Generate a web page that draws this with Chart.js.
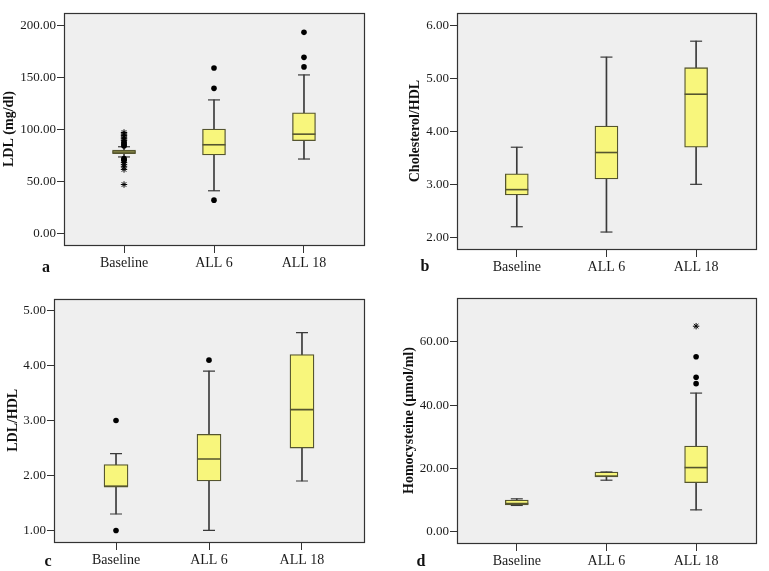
<!DOCTYPE html>
<html>
<head>
<meta charset="utf-8">
<script src="https://cdn.jsdelivr.net/npm/chart.js@4/dist/chart.umd.min.js"></script>
<style>
  html, body { margin: 0; padding: 0; background: #ffffff; }
  #wrap { position: relative; width: 769px; height: 571px; overflow: hidden; }
  canvas { position: absolute; }
  .lbl { position: absolute; font: bold 16px "Liberation Serif", serif; color: #111; transform: translate(-50%, -50%); }
</style>
</head>
<body>
<div id="wrap">
  <canvas id="ca" width="384" height="285" style="left:0;top:0;width:384px;height:285px"></canvas>
  <canvas id="cb" width="385" height="285" style="left:384px;top:0;width:385px;height:285px"></canvas>
  <canvas id="cc" width="384" height="286" style="left:0;top:285px;width:384px;height:286px"></canvas>
  <canvas id="cd" width="385" height="286" style="left:384px;top:285px;width:385px;height:286px"></canvas>
  <div class="lbl" style="left:46px;top:267px">a</div>
  <div class="lbl" style="left:425px;top:266px">b</div>
  <div class="lbl" style="left:48px;top:561px">c</div>
  <div class="lbl" style="left:421px;top:561px">d</div>
</div>
<script>
// ---- Data ----
const categories = ['Baseline', 'ALL 6', 'ALL 18'];
const categoryPositions = [1, 2, 3];

// Panel a: LDL (mg/dl)
const ldlTicks = [0, 50, 100, 150, 200];
const ldlMin    = [73.5, 41.0, 71.5];
const ldlQ1     = [76.6, 75.4, 89.2];
const ldlMedian = [78.2, 85.2, 95.4];
const ldlQ3     = [80.2, 100.3, 116.0];
const ldlMax    = [83.3, 128.3, 152.3];
const ldlOutliers = [[1, 84], [1, 85], [1, 86.5], [1, 88], [1, 72], [1, 71], [1, 70],
                     [2, 159], [2, 139.4], [2, 32], [3, 193.2], [3, 169.2], [3, 160]];
const ldlExtremes = [[1, 97], [1, 95.5], [1, 94], [1, 92.5], [1, 91], [1, 89.5],
                     [1, 68], [1, 66], [1, 64], [1, 61.5], [1, 47]];

// Panel b: Cholesterol/HDL
const cholTicks = [2, 3, 4, 5, 6];
const cholMin    = [2.2, 2.1, 3.0];
const cholQ1     = [2.8, 3.1, 3.7];
const cholMedian = [2.9, 3.6, 4.7];
const cholQ3     = [3.2, 4.1, 5.2];
const cholMax    = [3.7, 5.4, 5.7];
const cholOutliers = [];
const cholExtremes = [];

// Panel c: LDL/HDL
const ratioTicks = [1, 2, 3, 4, 5];
const ratioMin    = [1.3, 1.0, 1.9];
const ratioQ1     = [1.8, 1.9, 2.5];
const ratioMedian = [1.8, 2.3, 3.2];
const ratioQ3     = [2.2, 2.75, 4.2];
const ratioMax    = [2.4, 3.9, 4.6];
const ratioOutliers = [[1, 3.0], [1, 1.0], [2, 4.1]];
const ratioExtremes = [];

// Panel d: Homocysteine (µmol/ml)
const homoTicks = [0, 20, 40, 60];
const homoMin    = [8.2, 16.2, 6.8];
const homoQ1     = [8.4, 17.2, 15.4];
const homoMedian = [8.8, 17.5, 20.2];
const homoQ3     = [9.9, 18.8, 27.0];
const homoMax    = [10.3, 18.8, 43.8];
const homoOutliers = [[3, 55.3], [3, 48.8], [3, 46.8]];
const homoExtremes = [[3, 65.0]];

// ---- Styling ----
const SERIF = '"Liberation Serif", "Times New Roman", serif';
const BOX_FILL = '#f8f67c';
const BOX_EDGE = '#55552f';
const LINE_DARK = '#3a3a3a';
const PLOT_BG = '#efefef';

const plotFrame = {
  id: 'plotFrame',
  beforeDraw(chart) {
    const a = chart.chartArea, c = chart.ctx;
    c.save(); c.fillStyle = PLOT_BG;
    c.fillRect(a.left, a.top, a.right - a.left, a.bottom - a.top);
    c.restore();
  },
  afterDraw(chart) {
    const a = chart.chartArea, c = chart.ctx;
    c.save(); c.strokeStyle = '#333'; c.lineWidth = 1.2;
    c.strokeRect(Math.round(a.left) + 0.5, Math.round(a.top) + 0.5,
                 Math.round(a.right - a.left), Math.round(a.bottom - a.top));
    c.restore();
  }
};

function makePanel(id, cfg) {
  const pos = categoryPositions;
  const whiskers = pos.map((x, i) => ({ x: x, y: [cfg.min[i], cfg.max[i]] }));
  const boxes = pos.map((x, i) => ({ x: x, y: [cfg.q1[i], cfg.q3[i]] }));
  const medians = pos.map((x, i) => ({ x: x, y: cfg.median[i] }));
  const caps = pos.flatMap((x, i) => [{ x: x, y: cfg.min[i] }, { x: x, y: cfg.max[i] }]);
  const outs = cfg.outliers.map(p => ({ x: p[0], y: p[1] }));
  const extr = cfg.extremes.map(p => ({ x: p[0], y: p[1] }));
  const half = cfg.boxWidth / 2;

  new Chart(document.getElementById(id), {
    type: 'bar',
    data: {
      datasets: [
        { type: 'bar', data: whiskers, grouped: false, barThickness: 1, backgroundColor: LINE_DARK,
          borderWidth: 0, order: 4 },
        { type: 'bar', data: boxes, grouped: false, barThickness: cfg.boxWidth, backgroundColor: BOX_FILL,
          borderColor: BOX_EDGE, borderWidth: 1.3, borderSkipped: false, order: 3 },
        { type: 'scatter', data: caps, pointStyle: 'line', pointRadius: 6, borderColor: LINE_DARK,
          borderWidth: 1.2, order: 2 },
        { type: 'scatter', data: medians, pointStyle: 'line', pointRadius: half, borderColor: BOX_EDGE,
          borderWidth: 1.6, order: 1 },
        { type: 'scatter', data: outs, pointStyle: 'circle', pointRadius: 2.8, backgroundColor: '#000',
          borderColor: '#000', borderWidth: 0, order: 0 },
        { type: 'scatter', data: extr, pointStyle: 'star', pointRadius: 3.2, backgroundColor: '#000',
          borderColor: '#000', borderWidth: 1, order: 0 }
      ]
    },
    options: {
      responsive: false,
      animation: false,
      events: [],
      layout: { padding: { left: 0, top: cfg.padTop, right: cfg.padRight, bottom: 0 } },
      plugins: { legend: { display: false }, tooltip: { enabled: false } },
      scales: {
        x: {
          type: 'linear', min: 0.333, max: 3.667, offset: false,
          afterBuildTicks: s => { s.ticks = pos.map(v => ({ value: v })); },
          afterFit: s => { s.height = cfg.xHeight; },
          ticks: { callback: v => categories[pos.indexOf(v)] ?? '', autoSkip: false, maxRotation: 0,
                   padding: 2, color: '#1a1a1a', font: { family: SERIF, size: 14 } },
          grid: { display: true, drawOnChartArea: false, drawTicks: true, tickLength: 8,
                  color: '#333', offset: false },
          border: { display: false }
        },
        y: {
          type: 'linear', min: cfg.yMin, max: cfg.yMax, beginAtZero: false,
          afterBuildTicks: s => { s.ticks = cfg.ticks.map(v => ({ value: v })); },
          afterFit: s => { s.width = cfg.yWidth; },
          ticks: { callback: v => Number(v).toFixed(2), padding: 1, color: '#1a1a1a',
                   font: { family: SERIF, size: 13 } },
          grid: { display: true, drawOnChartArea: false, drawTicks: true, tickLength: 7, color: '#333' },
          border: { display: false },
          title: { display: true, text: cfg.title, color: '#111',
                   font: { family: SERIF, size: 14, weight: 'bold' },
                   padding: { top: cfg.titlePad, bottom: 0 } }
        }
      }
    },
    plugins: [plotFrame]
  });
}

makePanel('ca', { min: ldlMin, q1: ldlQ1, median: ldlMedian, q3: ldlQ3, max: ldlMax,
  outliers: ldlOutliers, extremes: ldlExtremes, ticks: ldlTicks, yMin: -11.1, yMax: 211.7,
  title: 'LDL (mg/dl)', boxWidth: 23, yWidth: 64, padTop: 4, padRight: 20, xHeight: 40, titlePad: 1.1 });

makePanel('cb', { min: cholMin, q1: cholQ1, median: cholMedian, q3: cholQ3, max: cholMax,
  outliers: cholOutliers, extremes: cholExtremes, ticks: cholTicks, yMin: 1.78, yMax: 6.23,
  title: 'Cholesterol/HDL', boxWidth: 23, yWidth: 73, padTop: 4, padRight: 5, xHeight: 36, titlePad: 22.6 });

makePanel('cc', { min: ratioMin, q1: ratioQ1, median: ratioMedian, q3: ratioQ3, max: ratioMax,
  outliers: ratioOutliers, extremes: ratioExtremes, ticks: ratioTicks, yMin: 0.79, yMax: 5.22,
  title: 'LDL/HDL', boxWidth: 24, yWidth: 54, padTop: 13, padRight: 20, xHeight: 29, titlePad: 4.6 });

makePanel('cd', { min: homoMin, q1: homoQ1, median: homoMedian, q3: homoQ3, max: homoMax,
  outliers: homoOutliers, extremes: homoExtremes, ticks: homoTicks, yMin: -3.7, yMax: 73.9,
  title: 'Homocysteine (µmol/ml)', boxWidth: 23, yWidth: 73, padTop: 13, padRight: 5, xHeight: 28, titlePad: 16.6 });
</script>
</body>
</html>
